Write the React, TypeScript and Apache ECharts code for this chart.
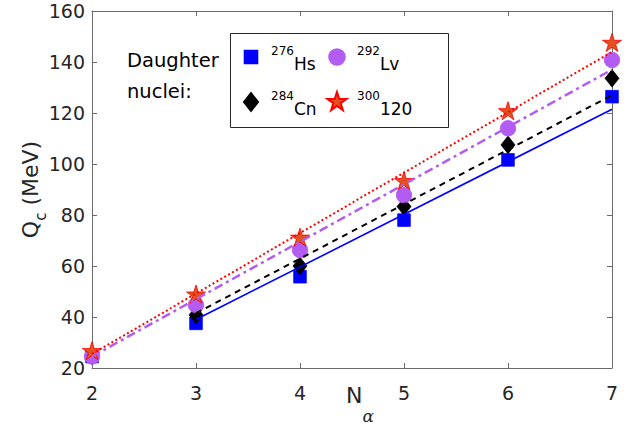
import React, { useEffect, useRef } from 'react';
import * as echarts from 'echarts';

// ---- data ----
const nAlpha = [2, 3, 4, 5, 6, 7];
const qHs = [24.5, 37.5, 55.8, 78.0, 101.6, 126.4];
const qCn = [24.8, 40.8, 60.0, 83.3, 107.5, 133.6];
const qLv = [24.5, 44.7, 66.3, 87.8, 114.0, 140.8];
const q120 = [26.4, 48.6, 70.9, 93.1, 120.5, 147.3];

// fitted lines (end points)
const fitHsX = [3, 7];
const fitHsY = [39.0, 121.5];
const fitCnX = [3, 7];
const fitCnY = [41.5, 127.0];
const fitLvX = [2, 7];
const fitLvY = [24.5, 137.0];
const fit120X = [2, 7];
const fit120Y = [25.5, 144.0];

const massNumbers = ['276', '284', '292', '300'];
const elements = ['Hs', 'Cn', 'Lv', '120'];
const seriesNames = ['Hs', 'Cn', 'Lv', 'E120'];

const yTicks = { min: 20, max: 160, interval: 20 };
const xTicks = { min: 2, max: 7, interval: 1 };

// symbols padded to a common 20x20 box so that legend and plot share sizes
const PAD = 'M-10,-10M10,10';
const symSquare = `path://${PAD}M-6.3,-6.3L6.3,-6.3L6.3,6.3L-6.3,6.3Z`;
const symDiamond = `path://${PAD}M0,-8.8L7,0L0,8.8L-7,0Z`;
const symCircle = `path://${PAD}M-7.8,0A7.8,7.8,0,1,0,7.8,0A7.8,7.8,0,1,0,-7.8,0Z`;
const symStar = `path://${PAD}M0,-10L2.245,-3.09L9.51,-3.09L3.633,1.18L5.878,8.09L0,3.82L-5.878,8.09L-3.633,1.18L-9.51,-3.09L-2.245,-3.09Z`;

const FONT = 'DejaVu Sans';
const TXT = '#262626';
const AXC = '#6b6b6b';

function pairs(xs: number[], ys: number[]) {
  return xs.map((x, i) => [x, ys[i]]);
}

export default function App() {
  const ref = useRef<HTMLDivElement>(null);
  useEffect(() => {
    if (!ref.current) return;
    const chart = echarts.init(ref.current, null, { renderer: 'svg' });

    const legendRich = {
      sup: { fontSize: 12, lineHeight: 12, padding: [3, 0, 15, 0], fontFamily: FONT, color: '#000' },
      el: { fontSize: 17, lineHeight: 17, padding: [13, 0, 0, 0], fontFamily: FONT, color: '#000' },
    };
    const legendFormatter = (name: string) => {
      const i = seriesNames.indexOf(name);
      return `{sup|${massNumbers[i]}}{el|${elements[i]}}`;
    };
    const legendBase = {
      orient: 'vertical',
      padding: 0,
      itemWidth: 20,
      itemHeight: 20,
      itemGap: 15,
      top: 42,
      formatter: legendFormatter,
      textStyle: { rich: legendRich, padding: [0, 0, 0, 5] },
      selectedMode: false,
    };

    const scatterBase = (name: string, data: number[], symbol: string, color: string, border: string) => ({
      name,
      type: 'scatter',
      symbol,
      symbolSize: 20,
      symbolKeepAspect: true,
      data: pairs(nAlpha, data),
      itemStyle: { color, borderColor: border, borderWidth: 0.8, opacity: 1 },
      z: 3,
    });
    const lineBase = (xs: number[], ys: number[], color: string, width: number, type: any) => ({
      type: 'line',
      data: pairs(xs, ys),
      showSymbol: false,
      symbol: 'none',
      lineStyle: { color, width, type },
      z: 4,
      silent: true,
    });

    const axisCommon = {
      type: 'value',
      axisLine: { show: true, lineStyle: { color: AXC, width: 1 } },
      axisTick: { show: true, inside: true, length: 5, lineStyle: { color: AXC } },
      splitLine: { show: false },
    };

    chart.setOption({
      animation: false,
      backgroundColor: '#fff',
      grid: { left: 92, right: 26, top: 11, bottom: 64, containLabel: false, outerBoundsMode: 'none' },
      xAxis: [
        {
          ...axisCommon,
          position: 'bottom',
          ...xTicks,
          axisLabel: { fontSize: 19, fontFamily: FONT, color: TXT, margin: 15 },
          name: '{n|N}{a|α}',
          nameLocation: 'middle',
          nameGap: 27,
          nameMoveOverlap: false,
          nameTextStyle: {
            rich: {
              n: { fontSize: 22, lineHeight: 22, padding: [0, 0, 22, 16], fontFamily: FONT, color: TXT },
              a: { fontSize: 17, lineHeight: 17, padding: [23, 0, 4, 0], fontFamily: 'DejaVu Serif', fontStyle: 'italic', color: TXT },
            },
          },
        },
        {
          ...axisCommon,
          position: 'top',
          ...xTicks,
          axisLabel: { show: false },
        },
      ],
      yAxis: [
        {
          ...axisCommon,
          position: 'left',
          ...yTicks,
          axisLabel: { fontSize: 19, fontFamily: FONT, color: TXT, margin: 7 },
          name: '{q|Q}{c|c}{q| (MeV)}',
          nameLocation: 'middle',
          nameRotate: 90,
          nameGap: 45,
          nameMoveOverlap: false,
          nameTextStyle: {
            rich: {
              q: { fontSize: 22, lineHeight: 22, padding: [0, 0, 12, 0], fontFamily: FONT, color: TXT },
              c: { fontSize: 15, lineHeight: 15, padding: [14, 0, 5, 0], fontFamily: FONT, color: TXT },
            },
          },
        },
        {
          ...axisCommon,
          position: 'right',
          ...yTicks,
          axisLabel: { show: false },
        },
      ],
      legend: [
        { ...legendBase, left: 240, data: [seriesNames[0], seriesNames[1]] },
        { ...legendBase, left: 326, data: [seriesNames[2], seriesNames[3]] },
      ],
      graphic: [
        {
          type: 'rect',
          shape: { x: 230.5, y: 33.5, width: 218, height: 94 },
          style: { fill: 'none', stroke: '#262626', lineWidth: 1 },
          z: 1,
        },
        {
          type: 'text',
          left: 127,
          top: 45,
          style: { text: 'Daughter\nnuclei:', font: `19.5px "${FONT}"`, lineHeight: 31, fill: '#000' },
        },
      ],
      series: [
        scatterBase(seriesNames[0], qHs, symSquare, '#0000ff', '#0000ff'),
        scatterBase(seriesNames[1], qCn, symDiamond, '#000000', '#000000'),
        scatterBase(seriesNames[2], qLv, symCircle, '#b35cf2', '#b35cf2'),
        scatterBase(seriesNames[3], q120, symStar, '#e0521f', '#ff0000'),
        lineBase(fitHsX, fitHsY, '#0000ff', 1.6, 'solid'),
        lineBase(fitCnX, fitCnY, '#000000', 2, [6, 5]),
        lineBase(fitLvX, fitLvY, '#b35cf2', 2.5, [9, 4, 3, 4]),
        lineBase(fit120X, fit120Y, '#ff0000', 2, [2, 2.5]),
      ],
    });
    return () => chart.dispose();
  }, []);
  return <div ref={ref} style={{ position: 'fixed', left: 0, top: 0, width: 638, height: 432 }} />;
}
